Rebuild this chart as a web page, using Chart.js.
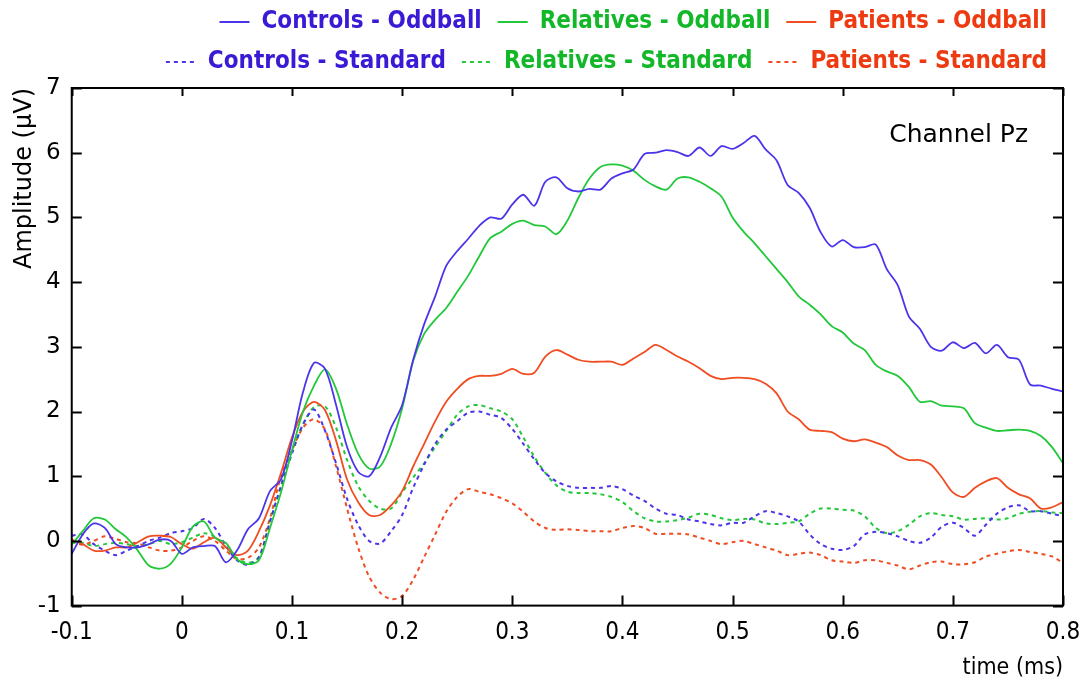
<!DOCTYPE html>
<html lang="en">
<head>
    <meta charset="UTF-8">
    <title>Channel Pz ERP</title>
    <script src="https://cdn.jsdelivr.net/npm/chart.js@4.4.1/dist/chart.umd.min.js"></script>
    <style>
        body { margin: 0; background: #fff; }
        #wrap { width: 1086px; height: 682px; }
    </style>
</head>
<body>
<div id="wrap"><canvas id="erpChart" width="1086" height="682"></canvas></div>

<script>
    // time axis (s, labelled "ms" in the original figure)
    const timeMs = [-0.10, -0.09, -0.08, -0.07, -0.06, -0.05, -0.04, -0.03, -0.02, -0.01,
        0.00, 0.01, 0.02, 0.03, 0.04, 0.05, 0.06, 0.07, 0.08, 0.09,
        0.10, 0.11, 0.12, 0.13, 0.14, 0.15, 0.16, 0.17, 0.18, 0.19,
        0.20, 0.21, 0.22, 0.23, 0.24, 0.25, 0.26, 0.27, 0.28, 0.29,
        0.30, 0.31, 0.32, 0.33, 0.34, 0.35, 0.36, 0.37, 0.38, 0.39,
        0.40, 0.41, 0.42, 0.43, 0.44, 0.45, 0.46, 0.47, 0.48, 0.49,
        0.50, 0.51, 0.52, 0.53, 0.54, 0.55, 0.56, 0.57, 0.58, 0.59,
        0.60, 0.61, 0.62, 0.63, 0.64, 0.65, 0.66, 0.67, 0.68, 0.69,
        0.70, 0.71, 0.72, 0.73, 0.74, 0.75, 0.76, 0.77, 0.78, 0.79, 0.80];

    // amplitudes in microvolts
    const controlsOddball = [-0.2, 0.1, 0.27, 0.2, -0.05, -0.1, -0.1, -0.05, 0.02, 0.0,
        -0.2, -0.1, -0.08, -0.08, -0.33, -0.15, 0.18, 0.35, 0.77, 0.95,
        1.55, 2.3, 2.75, 2.66, 2.1, 1.45, 1.07, 1.0, 1.3, 1.75,
        2.1, 2.8, 3.35, 3.78, 4.25, 4.48, 4.67, 4.87, 5.0, 4.98,
        5.2, 5.35, 5.18, 5.55, 5.62, 5.45, 5.4, 5.44, 5.43, 5.6,
        5.68, 5.74, 5.98, 6.0, 6.04, 6.01, 5.95, 6.08, 5.95, 6.1,
        6.06, 6.15, 6.26, 6.05, 5.88, 5.5, 5.38, 5.15, 4.77, 4.55,
        4.65, 4.54, 4.54, 4.58, 4.2, 3.95, 3.47, 3.28, 3.0, 2.94,
        3.07, 2.98, 3.06, 2.9, 3.03, 2.84, 2.8, 2.42, 2.4, 2.35, 2.31];

    const relativesOddball = [-0.06, 0.15, 0.35, 0.33, 0.18, 0.05, -0.15, -0.38, -0.43, -0.35,
        -0.1, 0.22, 0.3, 0.05, -0.03, -0.28, -0.36, -0.3, 0.2, 0.75,
        1.4, 2.0, 2.4, 2.65, 2.35, 1.8, 1.35, 1.12, 1.15, 1.5,
        2.05, 2.78, 3.2, 3.42, 3.6, 3.85, 4.1, 4.4, 4.68, 4.78,
        4.9, 4.95, 4.88, 4.86, 4.74, 4.95, 5.3, 5.6, 5.78, 5.82,
        5.8, 5.72, 5.58, 5.48, 5.43, 5.6, 5.62, 5.55, 5.45, 5.32,
        5.0, 4.78, 4.6, 4.4, 4.2, 4.0, 3.78, 3.65, 3.5, 3.32,
        3.22, 3.05, 2.95, 2.72, 2.62, 2.55, 2.38, 2.15, 2.16, 2.09,
        2.08, 2.05, 1.82, 1.75, 1.7, 1.71, 1.72, 1.7, 1.62, 1.45, 1.2];

    const patientsOddball = [0.02, -0.05, -0.15, -0.15, -0.1, -0.1, -0.02, 0.07, 0.08, 0.06,
        -0.05, -0.12, -0.02, 0.05, -0.1, -0.22, -0.15, 0.15, 0.55, 1.05,
        1.6, 2.0, 2.15, 2.02, 1.55, 0.95, 0.6, 0.4, 0.4, 0.55,
        0.77, 1.15, 1.5, 1.85, 2.15, 2.35, 2.5, 2.55, 2.55, 2.58,
        2.66, 2.58, 2.6, 2.85, 2.95, 2.88, 2.8, 2.77, 2.77, 2.77,
        2.72, 2.82, 2.92, 3.03, 2.95, 2.85, 2.77, 2.67, 2.55, 2.5,
        2.52, 2.52, 2.5, 2.43, 2.28, 2.0, 1.88, 1.72, 1.7, 1.68,
        1.58, 1.54, 1.57, 1.52, 1.45, 1.32, 1.25, 1.25, 1.18, 0.98,
        0.75, 0.68, 0.82, 0.92, 0.97, 0.82, 0.72, 0.66, 0.5, 0.52, 0.6];

    const controlsStandard = [0.08, 0.1, -0.05, -0.15, -0.22, -0.15, -0.08, 0.0, 0.05, 0.12,
        0.15, 0.2, 0.34, 0.2, -0.08, -0.3, -0.37, -0.25, 0.3, 0.85,
        1.35, 1.8, 2.03, 1.7, 1.2, 0.65, 0.25, 0.0, -0.04, 0.15,
        0.4, 0.82, 1.18, 1.5, 1.72, 1.85, 1.98, 2.0, 1.95, 1.9,
        1.73, 1.5, 1.26, 1.05, 0.92, 0.85, 0.82, 0.82, 0.82, 0.85,
        0.8, 0.7, 0.62, 0.5, 0.42, 0.4, 0.33, 0.3, 0.26, 0.24,
        0.28, 0.28, 0.38, 0.46, 0.43, 0.38, 0.3, 0.1, -0.05, -0.12,
        -0.14, -0.08, 0.1, 0.14, 0.12, 0.07, 0.0, -0.03, 0.05, 0.22,
        0.28, 0.2, 0.08, 0.25, 0.42, 0.52, 0.55, 0.46, 0.46, 0.42, 0.38];

    const relativesStandard = [-0.03, -0.03, -0.08, -0.05, -0.03, -0.05, -0.08, -0.05, 0.0, -0.05,
        -0.02, 0.05, 0.12, 0.06, -0.1, -0.27, -0.34, -0.25, 0.3, 0.85,
        1.4, 1.8, 2.07, 2.08, 1.75, 1.25, 0.85, 0.62, 0.5, 0.5,
        0.75, 0.98, 1.2, 1.45, 1.7, 1.95, 2.08, 2.1, 2.05, 2.0,
        1.88, 1.6, 1.3, 1.05, 0.86, 0.76, 0.74, 0.74, 0.72, 0.68,
        0.6, 0.46, 0.35, 0.3, 0.3, 0.32, 0.36, 0.42, 0.4, 0.35,
        0.32, 0.34, 0.33, 0.27, 0.26, 0.28, 0.3, 0.42, 0.5, 0.5,
        0.48, 0.47, 0.38, 0.2, 0.12, 0.15, 0.25, 0.38, 0.43, 0.4,
        0.38, 0.33, 0.34, 0.35, 0.33, 0.35, 0.42, 0.45, 0.46, 0.44, 0.43];

    const patientsStandard = [0.0, -0.06, 0.0, 0.07, 0.03, -0.02, -0.04, -0.1, -0.15, -0.15,
        -0.1, 0.0, 0.07, 0.0, -0.15, -0.28, -0.26, -0.1, 0.35, 1.0,
        1.4, 1.75, 1.88, 1.72, 1.15, 0.5, -0.1, -0.55, -0.8, -0.9,
        -0.85, -0.6, -0.25, 0.1, 0.45, 0.68, 0.8, 0.76, 0.72, 0.66,
        0.58, 0.45, 0.3, 0.2, 0.17, 0.18, 0.17, 0.15, 0.15, 0.15,
        0.2, 0.23, 0.2, 0.11, 0.11, 0.11, 0.1, 0.05, 0.0, -0.05,
        -0.02, 0.0, -0.05, -0.1, -0.15, -0.22, -0.2, -0.18, -0.22, -0.3,
        -0.32, -0.34, -0.3, -0.3, -0.34, -0.38, -0.44, -0.38, -0.33, -0.32,
        -0.36, -0.36, -0.33, -0.24, -0.2, -0.16, -0.14, -0.17, -0.2, -0.24, -0.34];

    const seriesNames = ['Controls - Oddball', 'Relatives - Oddball', 'Patients - Oddball',
        'Controls - Standard', 'Relatives - Standard', 'Patients - Standard'];
    const seriesValues = [controlsOddball, relativesOddball, patientsOddball,
        controlsStandard, relativesStandard, patientsStandard];

    const lineColors = ['#4b35ea', '#22c83a', '#f04d22'];
    const textColors = ['#3a1ad4', '#12b828', '#ee3a10'];
    const narrow = '"DejaVu Sans Condensed", "DejaVu Sans", sans-serif';
    const plain = '"DejaVu Sans", sans-serif';

    function toPoints(vals) {
        return vals.map((v, i) => ({x: timeMs[i], y: v}));
    }

    const datasets = seriesValues.map((vals, i) => {
        const dashed = i >= 3;
        return {
            label: seriesNames[i],
            data: toPoints(vals),
            borderColor: lineColors[i % 3],
            backgroundColor: 'rgba(0,0,0,0)',
            borderWidth: dashed ? 2 : 1.8,
            borderDash: dashed ? [4, 4] : [],
            pointRadius: 0,
            tension: 0.3,
            fill: false
        };
    });

    // a little extra room under the legend rows
    const legendGap = {
        id: 'legendGap',
        beforeUpdate(chart) {
            const lg = chart.legend;
            if (lg && !lg._gapPatched) {
                const fit = lg.fit;
                lg.fit = function () { fit.call(this); this.height += 4; };
                lg._gapPatched = true;
            }
        }
    };

    // box round the plot, ticks pointing inward, and the channel label
    const framePlugin = {
        id: 'frame',
        afterDatasetsDraw(chart) {
            const {ctx, chartArea: a, scales} = chart;
            const x = scales.x, y = scales.y;
            ctx.save();
            ctx.strokeStyle = '#000';
            ctx.lineWidth = 2;
            ctx.setLineDash([]);
            ctx.strokeRect(a.left, a.top, a.right - a.left, a.bottom - a.top);
            ctx.beginPath();
            x.ticks.forEach(t => {
                const px = Math.round(x.getPixelForValue(t.value)) + 0.5;
                ctx.moveTo(px, a.bottom); ctx.lineTo(px, a.bottom - 10);
                ctx.moveTo(px, a.top); ctx.lineTo(px, a.top + 8);
            });
            y.ticks.forEach(t => {
                const py = Math.round(y.getPixelForValue(t.value)) + 0.5;
                ctx.moveTo(a.left, py); ctx.lineTo(a.left + 10, py);
                ctx.moveTo(a.right, py); ctx.lineTo(a.right - 10, py);
            });
            ctx.stroke();
            ctx.fillStyle = '#000';
            ctx.font = '25px ' + plain;
            ctx.textAlign = 'right';
            ctx.textBaseline = 'middle';
            ctx.fillText('Channel Pz', a.right - 35, a.top + 47);
            ctx.restore();
        }
    };

    new Chart(document.getElementById('erpChart'), {
        type: 'line',
        data: {datasets: datasets},
        plugins: [legendGap, framePlugin],
        options: {
            responsive: false,
            animation: false,
            layout: {padding: {left: 0, right: 23, top: -6, bottom: 0}},
            plugins: {
                legend: {
                    position: 'top',
                    align: 'end',
                    labels: {
                        boxWidth: 30,
                        boxHeight: 0,
                        padding: 16,
                        font: {family: narrow, size: 24, weight: 'bold'},
                        generateLabels(chart) {
                            const items = Chart.defaults.plugins.legend.labels.generateLabels(chart);
                            items.forEach((it, i) => {
                                it.fontColor = textColors[i % 3];
                                it.fillStyle = 'rgba(0,0,0,0)';
                                it.lineDash = i >= 3 ? [4, 4] : [];
                                it.lineDashOffset = 0;
                            });
                            return items;
                        }
                    }
                },
                tooltip: {enabled: false}
            },
            scales: {
                x: {
                    type: 'linear',
                    min: -0.1,
                    max: 0.8,
                    grid: {display: false},
                    border: {display: false},
                    ticks: {
                        stepSize: 0.1,
                        color: '#000',
                        padding: 5,
                        font: {family: narrow, size: 24},
                        callback: v => (Math.abs(v) < 1e-9 ? '0' : v.toFixed(1))
                    },
                    title: {
                        display: true,
                        text: 'time (ms)',
                        align: 'end',
                        color: '#000',
                        font: {family: narrow, size: 23},
                        padding: {top: 2, bottom: 0}
                    }
                },
                y: {
                    min: -1,
                    max: 7,
                    grid: {display: false, drawTicks: false},
                    border: {display: false},
                    ticks: {
                        stepSize: 1,
                        color: '#000',
                        padding: 11,
                        font: {family: plain, size: 23}
                    },
                    title: {
                        display: true,
                        text: 'Amplitude (μV)',
                        align: 'end',
                        color: '#000',
                        font: {family: plain, size: 24},
                        padding: {top: 10, bottom: -12}
                    }
                }
            }
        }
    });
</script>
</body>
</html>
